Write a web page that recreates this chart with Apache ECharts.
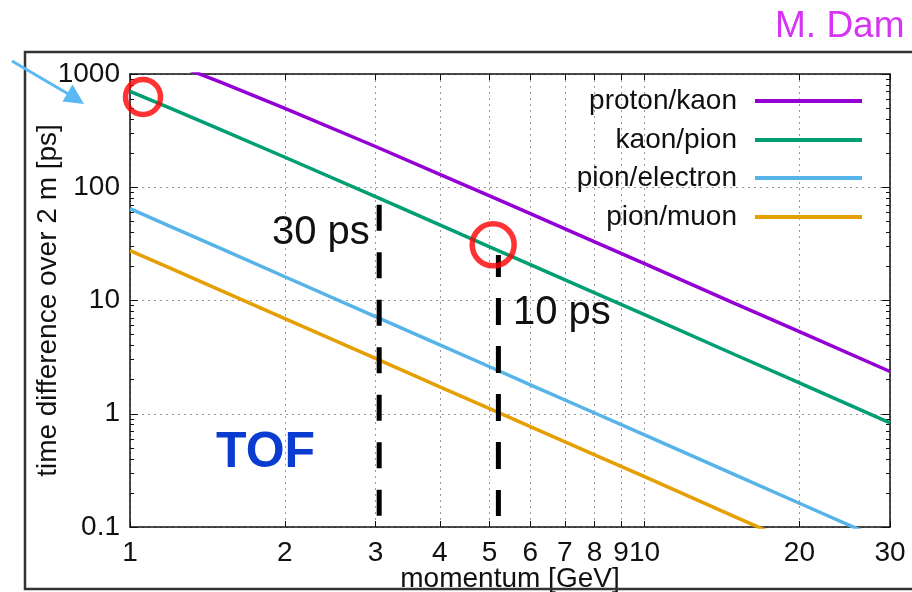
<!DOCTYPE html>
<html>
<head>
<meta charset="utf-8">
<script src="https://cdn.jsdelivr.net/npm/echarts@6/dist/echarts.min.js"></script>
<style>
html,body{margin:0;padding:0;background:#fff;}
#chart{width:912px;height:592px;}
</style>
</head>
<body>
<div id="chart"></div>
<script>
// ---- data ----
const momentum = [1, 1.2, 1.5, 2, 3, 4, 5, 6, 8, 10, 15, 20, 30];
const protonKaon = [1708, 1255, 846, 498, 229, 130, 84, 58.5, 33, 21.2, 9.4, 5.3, 2.36];
const kaonPion = [704, 498, 323, 184, 82.5, 46.6, 29.8, 20.7, 11.7, 7.5, 3.32, 1.87, 0.83];
const pionElectron = [64.7, 45.0, 28.8, 16.2, 7.2, 4.06, 2.6, 1.8, 1.015, 0.65, 0.289, 0.162, 0.072];
const pionMuon = [27.6, 19.2, 12.3, 6.92, 3.08, 1.73, 1.11, 0.77, 0.434, 0.278, 0.123, 0.069, 0.031];
const seriesNames = ['proton/kaon', 'kaon/pion', 'pion/electron', 'pion/muon'];
const xTickValues = [1, 2, 3, 4, 5, 6, 7, 8, 9, 10, 20, 30];
const yMajorTicks = [0.1, 1, 10, 100, 1000];
const yMinorTicks = [0.2,0.3,0.4,0.5,0.6,0.7,0.8,0.9, 2,3,4,5,6,7,8,9, 20,30,40,50,60,70,80,90, 200,300,400,500,600,700,800,900];
// dashed momentum markers (p, top value, bottom value)
const marker30 = [[3.05, 70], [3.05, 0.125]];
const marker10 = [[5.2, 25.2], [5.2, 0.125]];
// highlighted points
const circleSmall = [[1.06, 627]];
const circleLarge = [[5.08, 31]];

const colors = ['#9400d3', '#009e73', '#56b4e9', '#e69f00'];
const FONT = 'Liberation Sans';

function pairs(xs, ys) { return xs.map((x, i) => [x, ys[i]]); }
const allSeries = [protonKaon, kaonPion, pionElectron, pionMuon];

const chart = echarts.init(document.getElementById('chart'));

const lineSeries = allSeries.map((vals, i) => ({
  name: seriesNames[i],
  type: 'line',
  data: pairs(momentum, vals),
  showSymbol: false,
  symbol: 'none',
  clip: true,
  lineStyle: { color: colors[i], width: 3.5 },
  itemStyle: { color: colors[i] },
  z: 3
}));

const legendRows = [101, 140, 178, 217];
const legends = seriesNames.map((n, i) => ({
  data: [n],
  right: 50,
  top: legendRows[i] - 14,
  padding: 0,
  align: 'right',
  orient: 'vertical',
  icon: 'rect',
  itemWidth: 107,
  itemHeight: 4,
  selectedMode: false,
  textStyle: { fontFamily: FONT, fontSize: 28, color: '#111', padding: [0, 13, 0, 0] }
}));

const axisLineStyle = { color: '#111', width: 1.5 };
function plainNumber(v) { return String(Math.round(v * 1000) / 1000); }

const option = {
  animation: false,
  backgroundColor: '#fff',
  grid: { left: 130, right: 22, top: 74, bottom: 65, containLabel: false, outerBoundsMode: 'none' },
  legend: legends,
  xAxis: [
    {
      type: 'log', logBase: 10, min: 1, max: 30, position: 'bottom',
      name: 'momentum [GeV]', nameLocation: 'middle', nameGap: 38, nameMoveOverlap: false,
      nameTextStyle: { fontFamily: FONT, fontSize: 28, color: '#111', verticalAlign: 'top' },
      axisLine: { show: true, lineStyle: axisLineStyle },
      axisTick: { show: true, inside: true, length: 6, customValues: xTickValues, lineStyle: { color: '#111' } },
      axisLabel: { show: true, customValues: xTickValues, fontFamily: FONT, fontSize: 28, color: '#111', margin: 12, formatter: plainNumber },
      splitLine: { show: true, lineStyle: { color: '#999', type: [2, 4], width: 1 } },
      minorTick: { show: false }
    },
    {
      type: 'log', logBase: 10, min: 1, max: 30, position: 'top',
      axisLine: { show: true, lineStyle: axisLineStyle },
      axisTick: { show: true, inside: true, length: 6, customValues: xTickValues, lineStyle: { color: '#111' } },
      axisLabel: { show: false },
      splitLine: { show: false }
    }
  ],
  yAxis: [
    {
      type: 'log', logBase: 10, min: 0.1, max: 1000, position: 'left',
      name: 'time difference over 2 m [ps]', nameLocation: 'middle', nameGap: 68, nameMoveOverlap: false,
      nameTextStyle: { fontFamily: FONT, fontSize: 28, color: '#111' },
      axisLine: { show: true, lineStyle: axisLineStyle },
      axisTick: { show: true, inside: true, length: 8, customValues: yMajorTicks, lineStyle: { color: '#111' } },
      axisLabel: { show: true, customValues: yMajorTicks, fontFamily: FONT, fontSize: 28, color: '#111', margin: 10, formatter: plainNumber },
      splitLine: { show: true, lineStyle: { color: '#999', type: [2, 4], width: 1 } }
    },
    {
      type: 'log', logBase: 10, min: 0.1, max: 1000, position: 'left',
      axisLine: { show: false },
      axisTick: { show: true, inside: true, length: 4, customValues: yMinorTicks, lineStyle: { color: '#111' } },
      axisLabel: { show: false },
      splitLine: { show: false }
    },
    {
      type: 'log', logBase: 10, min: 0.1, max: 1000, position: 'right',
      axisLine: { show: true, lineStyle: axisLineStyle },
      axisTick: { show: true, inside: true, length: 8, customValues: yMajorTicks, lineStyle: { color: '#111' } },
      axisLabel: { show: false },
      splitLine: { show: false }
    },
    {
      type: 'log', logBase: 10, min: 0.1, max: 1000, position: 'right',
      axisLine: { show: false },
      axisTick: { show: true, inside: true, length: 4, customValues: yMinorTicks, lineStyle: { color: '#111' } },
      axisLabel: { show: false },
      splitLine: { show: false }
    }
  ],
  series: lineSeries.concat([
    {
      name: 'marker30', type: 'line', data: marker30, symbol: 'none',
      lineStyle: { color: '#000', width: 5, type: [26, 21.5] }, z: 4, silent: true
    },
    {
      name: 'marker10', type: 'line', data: marker10, symbol: 'none',
      lineStyle: { color: '#000', width: 5, type: [27, 21], dashOffset: 5 }, z: 4, silent: true
    },
    {
      name: 'circleSmall', type: 'scatter', data: circleSmall, symbol: 'circle', symbolSize: 35,
      itemStyle: { color: 'rgba(0,0,0,0)', borderColor: '#ff0000', borderWidth: 5.5 }, z: 6, silent: true
    },
    {
      name: 'circleLarge', type: 'scatter', data: circleLarge, symbol: 'circle', symbolSize: 42,
      itemStyle: { color: 'rgba(0,0,0,0)', borderColor: '#ff0000', borderWidth: 5.5 }, z: 6, silent: true
    }
  ]),
  graphic: [
    { type: 'rect', shape: { x: 25, y: 52, width: 1000, height: 537 }, style: { fill: 'none', stroke: '#333', lineWidth: 2.5 }, z: 100, silent: true },
    { type: 'line', shape: { x1: 12, y1: 61, x2: 70, y2: 95 }, style: { stroke: '#5ab9f3', lineWidth: 3 }, z: 100 },
    { type: 'polygon', shape: { points: [[84, 104], [62.5, 101.5], [72.5, 84.5]] }, style: { fill: '#5ab9f3' }, z: 100 },
    { type: 'text', left: 775, top: 8, style: { text: 'M. Dam', fontFamily: FONT, fontSize: 37, fill: '#d633f5' }, z: 100 },
    { type: 'text', x: 272, y: 233, style: { text: '30 ps', fontFamily: FONT, fontSize: 40, fill: '#111', verticalAlign: 'middle' }, z: 100 },
    { type: 'text', x: 513, y: 313, style: { text: '10 ps', fontFamily: FONT, fontSize: 40, fill: '#111', verticalAlign: 'middle' }, z: 100 },
    { type: 'text', x: 216, y: 453, style: { text: 'TOF', fontFamily: FONT, fontSize: 50, fontWeight: 'bold', fill: '#0a3ccf', verticalAlign: 'middle' }, z: 100 }
  ]
};
chart.setOption(option);
</script>
</body>
</html>
